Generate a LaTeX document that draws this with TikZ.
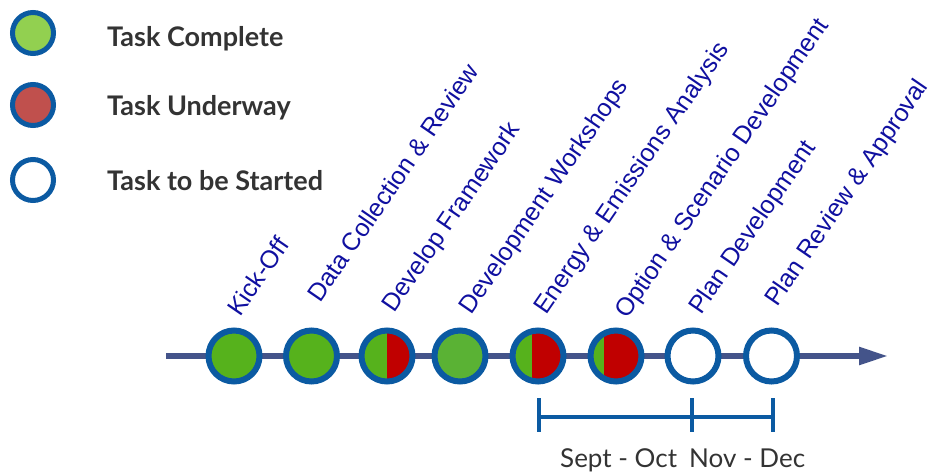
\documentclass[tikz,border=0pt]{standalone}
\usepackage{fontspec}
\setmainfont{Liberation Sans}
\newfontfamily\latofont{Lato}
\usetikzlibrary{arrows.meta}
\definecolor{ringblue}{RGB}{11,90,162}
\definecolor{axisblue}{RGB}{68,84,138}
\definecolor{labelblue}{RGB}{16,16,160}
\definecolor{taskgreen}{RGB}{86,178,28}
\definecolor{taskgreenb}{RGB}{90,178,52}
\definecolor{taskred}{RGB}{192,0,0}
\definecolor{leggreen}{RGB}{146,208,80}
\definecolor{legred}{RGB}{192,80,77}
\definecolor{txtgray}{RGB}{51,51,51}
\tikzset{
  task/.style={circle, draw=ringblue, line width=6pt, minimum size=51pt, inner sep=0pt},
  done/.style={task, fill=taskgreen},
  part/.style={task, fill=taskgreen, path picture={
      \fill[taskred] ([xshift=#1]path picture bounding box.north) rectangle (path picture bounding box.south east);}},
  todo/.style={task, fill=white},
  legdot/.style={circle, draw=ringblue, line width=5pt, minimum size=41pt, inner sep=0pt},
  legtext/.style={anchor=base west, font=\latofont\bfseries\fontsize{27}{30}\selectfont, text=txtgray, inner sep=0pt},
  tasklabel/.style={anchor=base west, rotate=55.5, font=\fontsize{25}{28}\selectfont, text=labelblue, inner sep=0pt},
  monthtext/.style={anchor=base west, inner sep=0pt, font=\latofont\fontsize{26}{28}\selectfont, text=txtgray},
  bracket/.style={draw=ringblue, line width=4pt},
}
\begin{document}
\begin{tikzpicture}[x=1pt,y=-1pt]
\useasboundingbox (0,0) rectangle (928,472);
% legend
\node[legdot, fill=leggreen] (lg1) at (33,33) {};
\node[legdot, fill=legred] (lg2) at (33,105) {};
\node[legdot, fill=white] (lg3) at (33,180) {};
\node[legtext] (lt1) at (107,46.7) {Task Complete};
\node[legtext] (lt2) at (107,115.5) {Task Underway};
\node[legtext] (lt3) at (107,190.7) {Task to be Started};
% axis
\coordinate (axs) at (166,356);
\coordinate (axe) at (888,356);
\draw[axisblue, line width=5.5pt, -{Triangle[length=29pt,width=17pt]}] (axs) -- (axe);
% tasks
\node[done] (t1) at (234,356) {};
\node[done] (t2) at (311.5,356) {};
\node[part=0pt] (t3) at (387,356) {};
\node[done, fill=taskgreenb] (t4) at (460,356) {};
\node[part=-6.3pt] (t5) at (538,356) {};
\node[part=-12pt] (t6) at (616,356) {};
\node[todo] (t7) at (693,356) {};
\node[todo] (t8) at (771.5,356) {};
% labels
\node[tasklabel] (l1) at (240,318) {Kick-Off};
\node[tasklabel] (l2) at (320,304) {Data Collection \& Review};
\node[tasklabel] (l3) at (394,314) {Develop Framework};
\node[tasklabel] (l4) at (471,316) {Development Workshops};
\node[tasklabel] (l5) at (546,316) {Energy \& Emissions Analysis};
\node[tasklabel] (l6) at (627,320) {Option \& Scenario Development};
\node[tasklabel] (l7) at (701,316) {Plan Development};
\node[tasklabel] (l8) at (777,308) {Plan Review \& Approval};
% bracket
\coordinate (b1t) at (539,398);
\coordinate (b1b) at (539,431.7);
\coordinate (b2t) at (691.7,398);
\coordinate (b2b) at (691.7,431.7);
\coordinate (b3t) at (772.7,398);
\coordinate (b3b) at (772.7,431.7);
\coordinate (bl) at (539,416.7);
\coordinate (br) at (772.7,416.7);
\draw[bracket] (b1t) -- (b1b);
\draw[bracket] (b2t) -- (b2b);
\draw[bracket] (b3t) -- (b3b);
\draw[bracket] (bl) -- (br);
\node[monthtext] (m1) at (560,467.5) {Sept - Oct};
\node[monthtext] (m2) at (689,467.5) {Nov - Dec};
\end{tikzpicture}
\end{document}
